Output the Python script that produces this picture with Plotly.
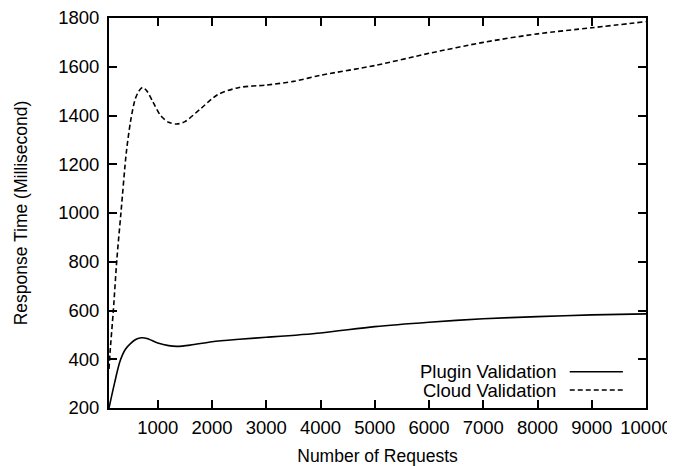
import plotly.graph_objects as go

# Data
cloud_x = [100, 120, 180, 245, 320, 420, 500, 580, 650, 720, 800, 900, 1050, 1200, 1350,
           1500, 1800, 2100, 2500, 3000, 3500, 4000, 5000, 6000, 7000, 8000, 9000, 10000]
cloud_y = [360, 430, 600, 810, 1000, 1250, 1380, 1465, 1500, 1515, 1500, 1460, 1400, 1372, 1365,
           1375, 1430, 1485, 1515, 1525, 1540, 1565, 1605, 1655, 1700, 1735, 1760, 1785]

plugin_x = [100, 200, 300, 400, 500, 600, 700, 800, 1000, 1200, 1350, 1600, 2000, 2500,
            3000, 4000, 5000, 6000, 7000, 8000, 9000, 10000]
plugin_y = [200, 300, 390, 440, 465, 482, 488, 485, 467, 456, 453, 458, 472, 482,
            490, 508, 534, 552, 566, 575, 582, 586]

x_ticks = [1000, 2000, 3000, 4000, 5000, 6000, 7000, 8000, 9000, 10000]
x_tick_labels = ["1000", "2000", "3000", "4000", "5000", "6000", "7000", "8000", "9000", "10000"]
y_ticks = [200, 400, 600, 800, 1000, 1200, 1400, 1600, 1800]

series_names = ["Plugin Validation", "Cloud Validation"]

FONT = "Liberation Sans, Arial, sans-serif"
FS = 18.5

fig = go.Figure()
fig.add_trace(go.Scatter(x=plugin_x, y=plugin_y, mode="lines", name=series_names[0],
                         line=dict(color="black", width=1.6, shape="spline", smoothing=0.8),
                         showlegend=False))
fig.add_trace(go.Scatter(x=cloud_x, y=cloud_y, mode="lines", name=series_names[1],
                         line=dict(color="black", width=1.6, dash="5px,3px", shape="spline", smoothing=0.8),
                         showlegend=False))

# gnuplot-style legend: text on the left, line sample on the right
legend_rows = [(series_names[0], "solid", 0.093), (series_names[1], "5px,3px", 0.046)]
for name, dash, yp in legend_rows:
    fig.add_annotation(x=0.836, y=yp, xref="paper", yref="paper", text=name,
                       showarrow=False, xanchor="right", yanchor="middle",
                       font=dict(family=FONT, size=FS, color="black"))
    fig.add_shape(type="line", xref="paper", yref="paper", x0=0.858, x1=0.957, y0=yp, y1=yp,
                  line=dict(color="black", width=1.5, dash=dash))

axis_common = dict(showline=True, linecolor="black", linewidth=2, mirror="allticks",
                   ticks="inside", ticklen=8, tickwidth=1.5, tickcolor="black",
                   showgrid=False, zeroline=False, ticklabeloverflow="allow",
                   tickfont=dict(family=FONT, size=FS, color="black"))

# the page body adds an 8px offset, so the figure is sized to fill the window exactly
fig.update_layout(
    width=667, height=458,
    margin=dict(l=101, r=29, t=10, b=58, autoexpand=False),
    paper_bgcolor="white", plot_bgcolor="white",
    xaxis=dict(range=[100, 10000], tickvals=x_ticks, ticktext=x_tick_labels, ticklabelstandoff=2,
               title=dict(text="Number of Requests", standoff=20,
                          font=dict(family=FONT, size=17.5, color="black")),
               **axis_common),
    yaxis=dict(range=[200, 1800], tickvals=y_ticks, ticklabelstandoff=4,
               title=dict(text="Response Time (Millisecond)", standoff=26,
                          font=dict(family=FONT, size=17.5, color="black")),
               **axis_common),
)

fig.write_html("out.html")
